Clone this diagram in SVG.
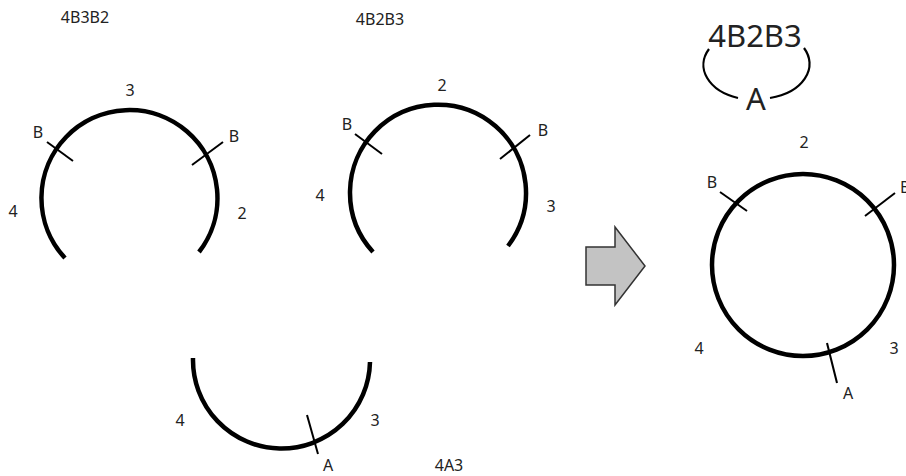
<svg xmlns="http://www.w3.org/2000/svg" width="906" height="476" viewBox="0 0 906 476">
<style>
text{font-family:"Noto Sans","Open Sans","Liberation Sans",sans-serif;font-size:16px;fill:#222;text-anchor:middle}
.big{font-size:31px}
.arc{fill:none;stroke:#000;stroke-width:4.5}
.tick{stroke:#000;stroke-width:2;fill:none}
.brk{fill:none;stroke:#000;stroke-width:2.2}
</style>
<rect width="906" height="476" fill="#fff"/>
<g id="ring-4B3B2">
<path class="arc" d="M65 258 A88 88 0 1 1 199 252"/>
<line class="tick" x1="47" y1="142" x2="73" y2="161"/>
<line class="tick" x1="223" y1="142" x2="192" y2="165"/>
<text x="85" y="23">4B3B2</text>
<text x="130" y="96">3</text>
<text x="38" y="138">B</text>
<text x="234" y="142">B</text>
<text x="13" y="217">4</text>
<text x="242" y="219">2</text>
</g>
<g id="ring-4B2B3">
<path class="arc" d="M373 252 A88 88 0 1 1 508 246"/>
<line class="tick" x1="355" y1="134" x2="382" y2="154"/>
<line class="tick" x1="530" y1="135" x2="500" y2="159"/>
<text x="380" y="25">4B2B3</text>
<text x="442" y="91">2</text>
<text x="347" y="130">B</text>
<text x="543" y="136">B</text>
<text x="320" y="201">4</text>
<text x="551" y="212">3</text>
</g>
<g id="ring-4A3">
<path class="arc" d="M193 358 A88.5 88.5 0 1 0 370 362"/>
<line class="tick" x1="307" y1="415" x2="318" y2="454"/>
<text x="180" y="426">4</text>
<text x="375" y="426">3</text>
<text x="328" y="471">A</text>
<text x="449" y="471">4A3</text>
</g>
<g id="connectors">
<polygon points="586,247 615,247 615,227 645,266 615,305 615,285 586,285" fill="#c3c3c3" stroke="#333" stroke-width="1.5" stroke-linejoin="miter"/>
</g>
<g id="label-formula">
<text class="big" x="755" y="47">4B2B3</text>
<path class="brk" d="M709 49 A51 35 0 0 0 738 98"/>
<path class="brk" d="M770 98 A51 35 0 0 0 804 48"/>
<text class="big" x="756" y="110">A</text>
</g>
<g id="ring-result">
<circle class="arc" cx="803" cy="265" r="91"/>
<line class="tick" x1="720" y1="192" x2="747" y2="211"/>
<line class="tick" x1="895" y1="193" x2="865" y2="216"/>
<line class="tick" x1="827" y1="343" x2="837" y2="383"/>
<text x="804" y="148">2</text>
<text x="712" y="188">B</text>
<text x="900" y="193" style="text-anchor:start">B</text>
<text x="699" y="354">4</text>
<text x="894" y="354">3</text>
<text x="848" y="399">A</text>
</g>
</svg>
